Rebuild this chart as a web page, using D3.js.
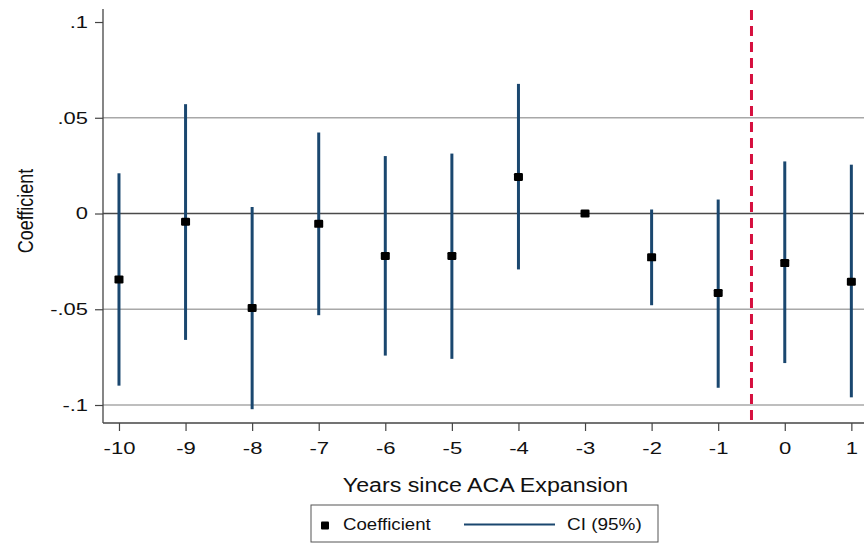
<!DOCTYPE html>
<html>
<head>
<meta charset="utf-8">
<script src="https://cdn.jsdelivr.net/npm/d3@7/dist/d3.min.js"></script>
<style>
  html, body { margin: 0; padding: 0; background: #fff; }
  svg { display: block; font-family: "Liberation Sans", Arial, sans-serif; }
</style>
</head>
<body>
<svg id="chart" width="864" height="546"></svg>
<script>
// Event-study estimates relative to the ACA expansion year
const years = [-10, -9, -8, -7, -6, -5, -4, -3, -2, -1, 0, 1];
const coef  = [-0.0344, -0.0043, -0.0493, -0.0054, -0.0222, -0.0222, 0.0191, 0, -0.0229, -0.0415, -0.0259, -0.0356];
const ciLow = [-0.0899, -0.0660, -0.1022, -0.0531, -0.0742, -0.0759, -0.0292, null, -0.0479, -0.0910, -0.0781, -0.0960];
const ciHigh = [0.0210, 0.0571, 0.0034, 0.0423, 0.0300, 0.0313, 0.0677, null, 0.0021, 0.0073, 0.0272, 0.0255];

const yTicks = [0.1, 0.05, 0, -0.05, -0.1];
const yTickLabels = [".1", ".05", "0", "-.05", "-.1"];
const xTicks = years;
const xTickLabels = ["-10", "-9", "-8", "-7", "-6", "-5", "-4", "-3", "-2", "-1", "0", "1"];
const treatmentLine = -0.5;

const svg = d3.select("#chart");
const plotLeft = 103, plotRight = 864, plotTop = 9, plotBottom = 423;

const x = d3.scaleLinear().domain([-10.24, 1.19]).range([plotLeft, plotRight]);
const y = d3.scaleLinear().domain([-0.1094, 0.1068]).range([plotBottom, plotTop]);

// Glyphs are drawn slightly wide; stretch a text horizontally around its anchor
function widen(sel, s) {
  sel.each(function () {
    const t = d3.select(this);
    const x0 = +t.attr("x") || 0;
    t.attr("x", x0 / s).attr("transform", `scale(${s},1)`);
  });
}

// Horizontal grid lines
const grid = svg.append("g");
grid.selectAll("line")
  .data(yTicks.filter(t => t !== 0.1))
  .join("line")
  .attr("x1", plotLeft).attr("x2", plotRight)
  .attr("y1", d => y(d)).attr("y2", d => y(d))
  .attr("stroke", d => d === 0 ? "#4a4a4a" : "#a8a8a8")
  .attr("stroke-width", d => d === 0 ? 1.6 : 1.4);

// Y axis
const yAxis = svg.append("g")
  .attr("transform", `translate(${plotLeft},0)`)
  .call(d3.axisLeft(y).tickValues(yTicks)
    .tickFormat((d, i) => yTickLabels[i]).tickSize(8).tickPadding(7).tickSizeOuter(0));
yAxis.select(".domain").attr("stroke", "#444").attr("stroke-width", 1.3)
  .attr("d", `M0,${plotTop}V${plotBottom}`);
yAxis.selectAll(".tick line").attr("stroke", "#444").attr("stroke-width", 1.2);
yAxis.selectAll(".tick text").attr("fill", "#111").style("font-size", "16.5px")
  .style("font-family", "Liberation Sans, Arial, sans-serif")
  .call(widen, 1.33);

// X axis
const xAxis = svg.append("g")
  .attr("transform", `translate(0,${plotBottom})`)
  .call(d3.axisBottom(x).tickValues(xTicks).tickFormat((d, i) => xTickLabels[i])
    .tickSize(8).tickPadding(11).tickSizeOuter(0));
xAxis.select(".domain").attr("stroke", "#444").attr("stroke-width", 1.3)
  .attr("d", `M${plotLeft},0H${plotRight}`);
xAxis.selectAll(".tick line").attr("stroke", "#444").attr("stroke-width", 1.2);
xAxis.selectAll(".tick text").attr("fill", "#111").style("font-size", "17px")
  .style("font-family", "Liberation Sans, Arial, sans-serif")
  .call(widen, 1.3);

// Expansion marker line
svg.append("line")
  .attr("x1", x(treatmentLine)).attr("x2", x(treatmentLine))
  .attr("y1", plotTop + 1).attr("y2", plotBottom)
  .attr("stroke", "#d6103f").attr("stroke-width", 3)
  .attr("stroke-dasharray", "10,6");

// Confidence intervals
const rows = years.map((yr, i) => ({ yr, b: coef[i], lo: ciLow[i], hi: ciHigh[i] }));
svg.append("g").selectAll("line")
  .data(rows.filter(d => d.lo !== null))
  .join("line")
  .attr("x1", d => x(d.yr)).attr("x2", d => x(d.yr))
  .attr("y1", d => y(d.hi)).attr("y2", d => y(d.lo))
  .attr("stroke", "#1a476f").attr("stroke-width", 3);

// Point estimates
svg.append("g").selectAll("rect")
  .data(rows)
  .join("rect")
  .attr("x", d => x(d.yr) - 4.5).attr("y", d => y(d.b) - 4)
  .attr("width", 9).attr("height", 8).attr("rx", 1.2)
  .attr("fill", "#000");

// Axis titles
svg.append("text")
  .attr("x", 485.5).attr("y", 492)
  .attr("text-anchor", "middle")
  .style("font-size", "19.5px").attr("fill", "#111")
  .text("Years since ACA Expansion")
  .call(widen, 1.19);

svg.append("text")
  .attr("transform", "translate(32.5,211) rotate(-90) scale(1,1.25)")
  .attr("text-anchor", "middle")
  .style("font-size", "18px").attr("fill", "#111")
  .text("Coefficient");

// Legend
const lg = svg.append("g");
lg.append("rect")
  .attr("x", 311).attr("y", 505).attr("width", 347).attr("height", 37)
  .attr("fill", "#fff").attr("stroke", "#555").attr("stroke-width", 1);
lg.append("rect")
  .attr("x", 321).attr("y", 521.5).attr("width", 8).attr("height", 8).attr("rx", 1)
  .attr("fill", "#000");
lg.append("text")
  .attr("x", 343).attr("y", 530.5)
  .style("font-size", "16.5px").attr("fill", "#111")
  .text("Coefficient")
  .call(widen, 1.13);
lg.append("line")
  .attr("x1", 464).attr("x2", 555).attr("y1", 524.5).attr("y2", 524.5)
  .attr("stroke", "#1a476f").attr("stroke-width", 2);
lg.append("text")
  .attr("x", 567).attr("y", 530.5)
  .style("font-size", "16.5px").attr("fill", "#111")
  .text("CI (95%)")
  .call(widen, 1.15);
</script>
</body>
</html>
